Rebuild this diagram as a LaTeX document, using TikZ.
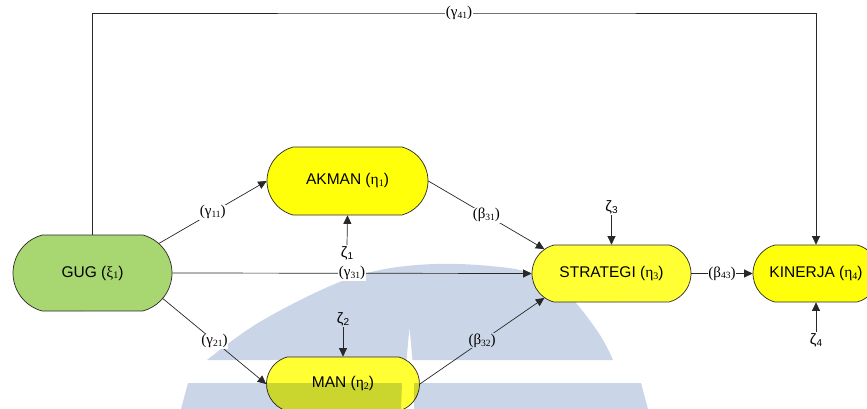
\documentclass[tikz,border=0pt]{standalone}
\usepackage{fontspec}
\setmainfont{Liberation Sans}
\newfontfamily\lblfont{Liberation Serif}
\usetikzlibrary{arrows.meta,shapes.misc}

\definecolor{gugfill}{RGB}{168,214,112}
\definecolor{yelfill}{RGB}{255,255,10}
\definecolor{yelsoft}{RGB}{255,255,51}
\definecolor{inkline}{RGB}{40,40,40}
\definecolor{wmblue}{RGB}{202,214,231}

% small lowered index, e.g. the 1 in eta_1
\newcommand{\lo}[2][9.5]{\raisebox{-0.25ex}{\fontsize{#1}{#1}\selectfont #2}}
% serif Greek letter with index, used inside the sans node texts
\newcommand{\grk}[3][10]{{\lblfont #2\lo[#1]{#3}}}
% keeps the text from widening its node
\newcommand{\ctr}[1]{\makebox[40pt]{#1}}

\begin{document}
\begin{tikzpicture}[x=1pt,y=-1pt,
  lat/.style={rounded rectangle, rounded rectangle arc length=150,
    draw=inkline, line width=0.7pt, inner sep=0pt, text=black,
    font=\fontsize{15.5}{18}\selectfont},
  conn/.style={draw=inkline, line width=0.7pt,
    -{Triangle[length=8.5pt,width=8pt]}},
  lbl/.style={fill=white, inner sep=0.6pt,
    font=\lblfont\fontsize{15}{16}\selectfont},
  dist/.style={inner sep=1pt, font=\fontsize{15}{16}\selectfont}
]
\useasboundingbox (0,0) rectangle (867,409);
\clip (0,0) rectangle (867,409);
\fill[white] (0,0) rectangle (867,409);

% faint background emblem: arch with a narrow notch
\fill[wmblue] plot[smooth, tension=0.6] coordinates {(207,360) (258,323) (330,286)
    (380,270) (435,264) (490,266) (530,273) (567,294) (598,332) (613,360)}
  -- (412.5,360) -- (409.5,327) -- (406.5,360) -- cycle;

% latent variables
\node[lat, fill=gugfill, minimum width=159pt, minimum height=76pt]
  (gug) at (92.5,273) {\ctr{GUG (\grk{ξ}{1})}};
\node[lat, fill=yelfill, minimum width=161pt, minimum height=68pt]
  (akman) at (347.5,181) {\ctr{AKMAN (\grk{η}{1})}};
\node[lat, fill=yelsoft, minimum width=153pt, minimum height=54pt]
  (man) at (343,384) {\ctr{MAN (\grk{η}{2})}};
\node[lat, fill=yelsoft, minimum width=159pt, minimum height=57pt]
  (strat) at (611.5,273.5) {\ctr{STRATEGI (\grk{η}{3})}};
\node[lat, fill=yelfill, minimum width=126pt, minimum height=57pt]
  (kin) at (816,273.5) {\ctr{KINERJA (\grk{η}{4})}};

% disturbance terms
\node[dist] (z1) at (347,253) {ζ\lo[10]{1}};
\node[dist] (z2) at (343,319) {ζ\lo[10]{2}};
\node[dist] (z3) at (611.5,207) {ζ\lo[10]{3}};
\node[dist] (z4) at (816,340) {ζ\lo[10]{4}};

% structural paths
\draw[conn] (gug.24) -- node[lbl]{(γ\lo{11})} (akman.west);
\draw[conn] (gug.-20) -- node[lbl]{(γ\lo{21})} (man.west);
\draw[conn] (gug.east) -- node[lbl]{(γ\lo{31})} (strat.west);
\draw[conn] (akman.east) -- node[lbl]{(β\lo{31})} (strat.160);
\draw[conn] (man.east) -- node[lbl, fill=wmblue]{(β\lo{32})} (strat.200);
\draw[conn] (strat.east) -- node[lbl]{(β\lo{43})} (kin.west);
\coordinate (topmid) at (459,13);
\draw[conn] (gug.north) |- (topmid) -| (kin.north);
\node[lbl] at (topmid) {(γ\lo{41})};

% disturbance arrows
\draw[conn] (z1.north) -- (akman.south);
\draw[conn] (z2.south) -- (man.north);
\draw[conn] (z3.south) -- (strat.north);
\draw[conn] (z4.north) -- (kin.south);

% lower band of the emblem, laid over the bottom node
\begin{scope}[blend mode=multiply]
  \fill[wmblue] (188,383) -- (402,383) -- (401,409) -- (181,409) -- cycle;
  \fill[wmblue] (414,383) -- (641,383) -- (648,409) -- (414,409) -- cycle;
\end{scope}
\end{tikzpicture}
\end{document}
